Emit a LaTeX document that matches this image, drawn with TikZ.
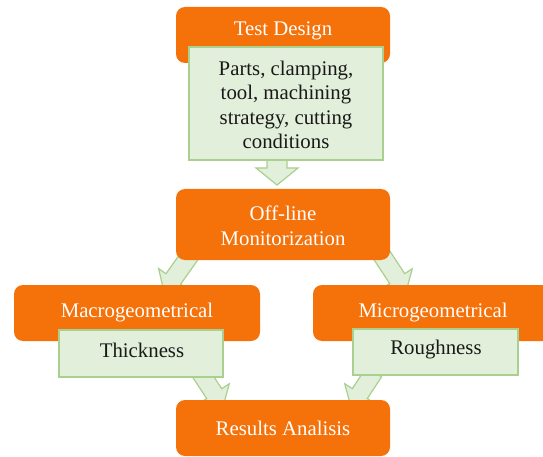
\documentclass[tikz,border=0pt]{standalone}
\usepackage{fontspec}
\setmainfont{Liberation Serif}
\usetikzlibrary{calc}
\definecolor{orng}{RGB}{245,113,10}
\definecolor{gfill}{RGB}{226,239,218}
\definecolor{gline}{RGB}{169,208,142}
\newcommand{\blockarr}[5]{%
  \coordinate (hh) at ($(#2)!#5!(#1)$);
  \draw[arrowst] ($(#1)!#3!90:(#2)$) -- ($(hh)!#3!90:(#2)$) -- ($(hh)!#4!90:(#2)$) -- (#2)
    -- ($(hh)!#4!-90:(#2)$) -- ($(hh)!#3!-90:(#2)$) -- ($(#1)!#3!-90:(#2)$) -- cycle;}
\begin{document}
\begin{tikzpicture}[x=1pt,y=-1pt,
  obox/.style={fill=orng, draw=none, rounded corners=9pt, inner sep=0pt},
  gbox/.style={fill=gfill, draw=gline, line width=1.2pt, inner sep=0pt},
  arrowst/.style={fill=gfill, draw=gline, line width=1.2pt, line join=miter},
  wtxt/.style={text=white, font=\rmfamily\fontsize{20.8}{24.5}\selectfont, align=center, inner sep=0pt},
  btxt/.style={text=black!90, font=\rmfamily\fontsize{20.8}{24.5}\selectfont, align=center, inner sep=0pt}]
\useasboundingbox (0,0) rectangle (543,457);
% arrows (drawn beneath boxes)
\coordinate (a1s) at (277,156);
\coordinate (a1e) at (277,185);
\coordinate (a2s) at (191,254);
\coordinate (a2e) at (164,292);
\coordinate (a3s) at (381,254);
\coordinate (a3e) at (406,292);
\coordinate (a4s) at (200,372);
\coordinate (a4e) at (223,407);
\coordinate (a5s) at (374,372);
\coordinate (a5e) at (351,407);
\blockarr{a1s}{a1e}{10pt}{21pt}{17pt}
\blockarr{a2s}{a2e}{9pt}{18pt}{16pt}
\blockarr{a3s}{a3e}{9pt}{18pt}{16pt}
\blockarr{a4s}{a4e}{9pt}{18pt}{16pt}
\blockarr{a5s}{a5e}{9pt}{18pt}{16pt}
% orange boxes
\node[obox, minimum width=214pt, minimum height=56pt] (td) at (283,35) {};
\node[obox, minimum width=214pt, minimum height=71pt] (om) at (283,224.5) {};
\node[obox, minimum width=246pt, minimum height=56pt] (mac) at (137,313) {};
\node[obox, minimum width=250pt, minimum height=56pt] (mic) at (438,313) {};
\node[obox, minimum width=214pt, minimum height=56pt] (ra) at (283,428) {};
% green boxes
\node[gbox, minimum width=194pt, minimum height=113pt] (gd) at (286,103.5) {};
\node[gbox, minimum width=164pt, minimum height=47pt] (th) at (141,353.5) {};
\node[gbox, minimum width=165pt, minimum height=46pt] (ro) at (435.5,352) {};
% texts
\node[wtxt] (tdt) at (283,31) {Test Design};
\node[btxt] (gdt) at (286,105) {Parts, clamping,\\tool, machining\\strategy, cutting\\conditions};
\node[wtxt] (omt) at (283,226) {Off-line\\Monitorization};
\node[wtxt] (mact) at (137,313) {Macrogeometrical};
\node[wtxt] (mict) at (433,313) {Microgeometrical};
\node[btxt] (tht) at (142,350) {Thickness};
\node[btxt] (rot) at (436,350) {Roughness};
\node[wtxt] (rat) at (283,428) {Results Analisis};
\end{tikzpicture}
\end{document}
